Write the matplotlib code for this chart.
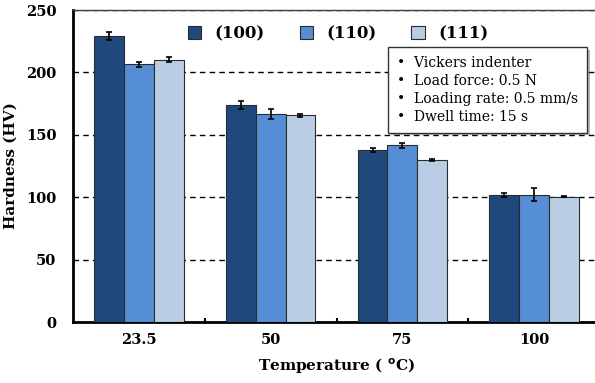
import matplotlib
matplotlib.use("Agg")
import matplotlib.pyplot as plt
import numpy as np
import matplotlib.patheffects as pe

categories = ["23.5", "50", "75", "100"]
series_names = ["(100)", "(110)", "(111)"]
hv_100 = [229, 174, 138, 101.5]
hv_110 = [206.5, 166.5, 141.5, 102]
hv_111 = [210, 165.5, 130, 100.5]
err_100 = [3, 3, 1.5, 1.5]
err_110 = [2, 4, 2, 5]
err_111 = [2, 1, 1, 0.5]
colors = ["#1F497D", "#558ED5", "#B9CDE5"]

plt.rcParams['font.family'] = ['DejaVu Serif']

fig = plt.figure(figsize=(5.95, 3.83), dpi=100)
W, H = 595, 383
ax = fig.add_axes([73 / W, 1 - 322 / H, (600 - 73) / W, (322 - 10) / H])

x = np.arange(len(categories))
width = 0.226
values = [hv_100, hv_110, hv_111]
errs = [err_100, err_110, err_111]
for i, (v, e, c, n) in enumerate(zip(values, errs, colors, series_names)):
    ax.bar(x + (i - 1) * width, v, width, yerr=e, color=c, edgecolor="#2b2b2b",
           linewidth=0.8, label=n, zorder=3,
           error_kw=dict(ecolor="black", elinewidth=1.2, capsize=2.5, capthick=1.2, zorder=4))

ax.set_xlim(-0.5, 3.5)
ax.set_ylim(0, 250)
ax.set_yticks([0, 50, 100, 150, 200, 250])
ax.yaxis.grid(True, linestyle=(0, (4, 3)), color="black", linewidth=1.0, zorder=0)
ax.set_axisbelow(True)
ax.tick_params(axis="y", length=0, pad=12, labelsize=10.5)
ax.set_xticks(x)
ax.set_xticklabels(categories)
ax.tick_params(axis="x", length=0, pad=8, labelsize=10.5)
ax.set_xticks([0.5, 1.5, 2.5], minor=True)
ax.tick_params(axis="x", which="minor", direction="in", length=3, width=1.5)
for lbl in ax.get_xticklabels() + ax.get_yticklabels():
    lbl.set_fontweight("bold")

ax.spines["left"].set_linewidth(2.0)
ax.spines["bottom"].set_linewidth(2.0)
ax.spines["top"].set_linewidth(1.0)
ax.spines["top"].set_color("#404040")
ax.spines["right"].set_visible(False)

ax.set_ylabel("Hardness (HV)", fontsize=11, fontweight="bold")
ax.yaxis.set_label_coords((18 - 73) / (600 - 73), 0.5)
ax.set_xlabel("Temperature ( $^{\\mathbf{o}}$C)", fontsize=11, fontweight="bold", labelpad=7)

leg = ax.legend(loc="upper center", ncol=3, frameon=False,
                prop=dict(size=12, weight="bold"), handlelength=0.8, handleheight=0.85,
                columnspacing=2.1, handletextpad=0.8,
                bbox_to_anchor=((338 - 73) / (600 - 73), 1.0))

info = "•  Vickers indenter\n•  Load force: 0.5 N\n•  Loading rate: 0.5 mm/s\n•  Dwell time: 15 s"
t = fig.text(397 / W, 1 - 56 / H, info, fontsize=10, va="top", ha="left", linespacing=1.35,
             bbox=dict(boxstyle="square,pad=0.65", facecolor="white", edgecolor="#333333",
                       linewidth=1.0),
             zorder=10)
t.get_bbox_patch().set_path_effects([pe.SimplePatchShadow(offset=(2, -2), alpha=0.4), pe.Normal()])

fig.savefig("out.png", dpi=100)
